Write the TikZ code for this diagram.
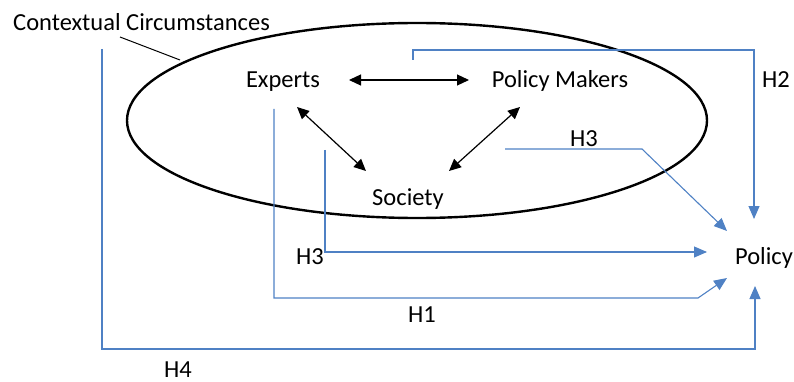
\documentclass[tikz,border=0pt]{standalone}
\usepackage{fontspec}
\setmainfont{Carlito}
\usetikzlibrary{arrows.meta,shapes.geometric}
\definecolor{linkblue}{RGB}{79,129,196}
\begin{document}
\begin{tikzpicture}[x=1pt,y=-1pt,
  lbl/.style={inner sep=0pt,font=\fontsize{24.5}{29}\selectfont,anchor=base},
  mutual/.style={draw=black,line width=1.2pt,{Triangle[length=12pt,width=11pt]}-{Triangle[length=12pt,width=11pt]}},
  link/.style={draw=linkblue,line width=1.1pt,-{Triangle[length=13pt,width=11pt]}}]
\useasboundingbox (0,0) rectangle (794,382);

% context ellipse and its label
\node[draw,line width=2.4pt,ellipse,minimum width=580pt,minimum height=195pt,inner sep=0pt] (ctx) at (417,120.5) {};
\node[lbl,anchor=base west] (ctxlbl) at (13,31) {Contextual Circumstances};
\coordinate (lead0) at (120,37);
\coordinate (lead1) at (180,60);
\draw[line width=1pt] (lead0) -- (lead1);

% actors
\node[lbl] (exp) at (283,88) {Experts};
\node[lbl] (pm) at (560,88) {Policy Makers};
\node[lbl] (soc) at (408,205) {Society};
\node[lbl] (pol) at (764,264) {Policy};

% mutual relations
\coordinate (e1) at (349,80);  \coordinate (p1) at (469,80);
\coordinate (e2) at (297,107); \coordinate (s2) at (366,171);
\coordinate (p3) at (520,107); \coordinate (s3) at (449,171);
\draw[mutual] (e1) -- (p1);
\draw[mutual] (e2) -- (s2);
\draw[mutual] (p3) -- (s3);

% H2: policy makers -> policy
\coordinate (h2a) at (413,60);
\coordinate (h2b) at (754,219);
\draw[link] (h2a) |- (754,50) -- (h2b);
\node[lbl] (h2) at (776,88) {H2};

% H3: society (upper path) -> policy
\coordinate (h3a) at (505,149);
\coordinate (h3b) at (727,231);
\draw[link] (h3a) -- (642,149) -- (h3b);
\node[lbl] (h3u) at (584,147) {H3};

% H3: society (lower path) -> policy
\coordinate (h3c) at (325,150);
\coordinate (h3d) at (707,252);
\draw[link] (h3c) |- (h3d);
\node[lbl] (h3l) at (310,264) {H3};

% H1: experts -> policy
\coordinate (h1a) at (274,109);
\coordinate (h1b) at (727,278);
\draw[link] (h1a) -- (274,298) -- (698,298) -- (h1b);
\node[lbl] (h1) at (422,322) {H1};

% H4: context -> policy
\coordinate (h4a) at (102,49);
\coordinate (h4b) at (755,286);
\draw[link] (h4a) -- (102,349) -| (h4b);
\node[lbl] (h4) at (178,377) {H4};
\end{tikzpicture}
\end{document}
